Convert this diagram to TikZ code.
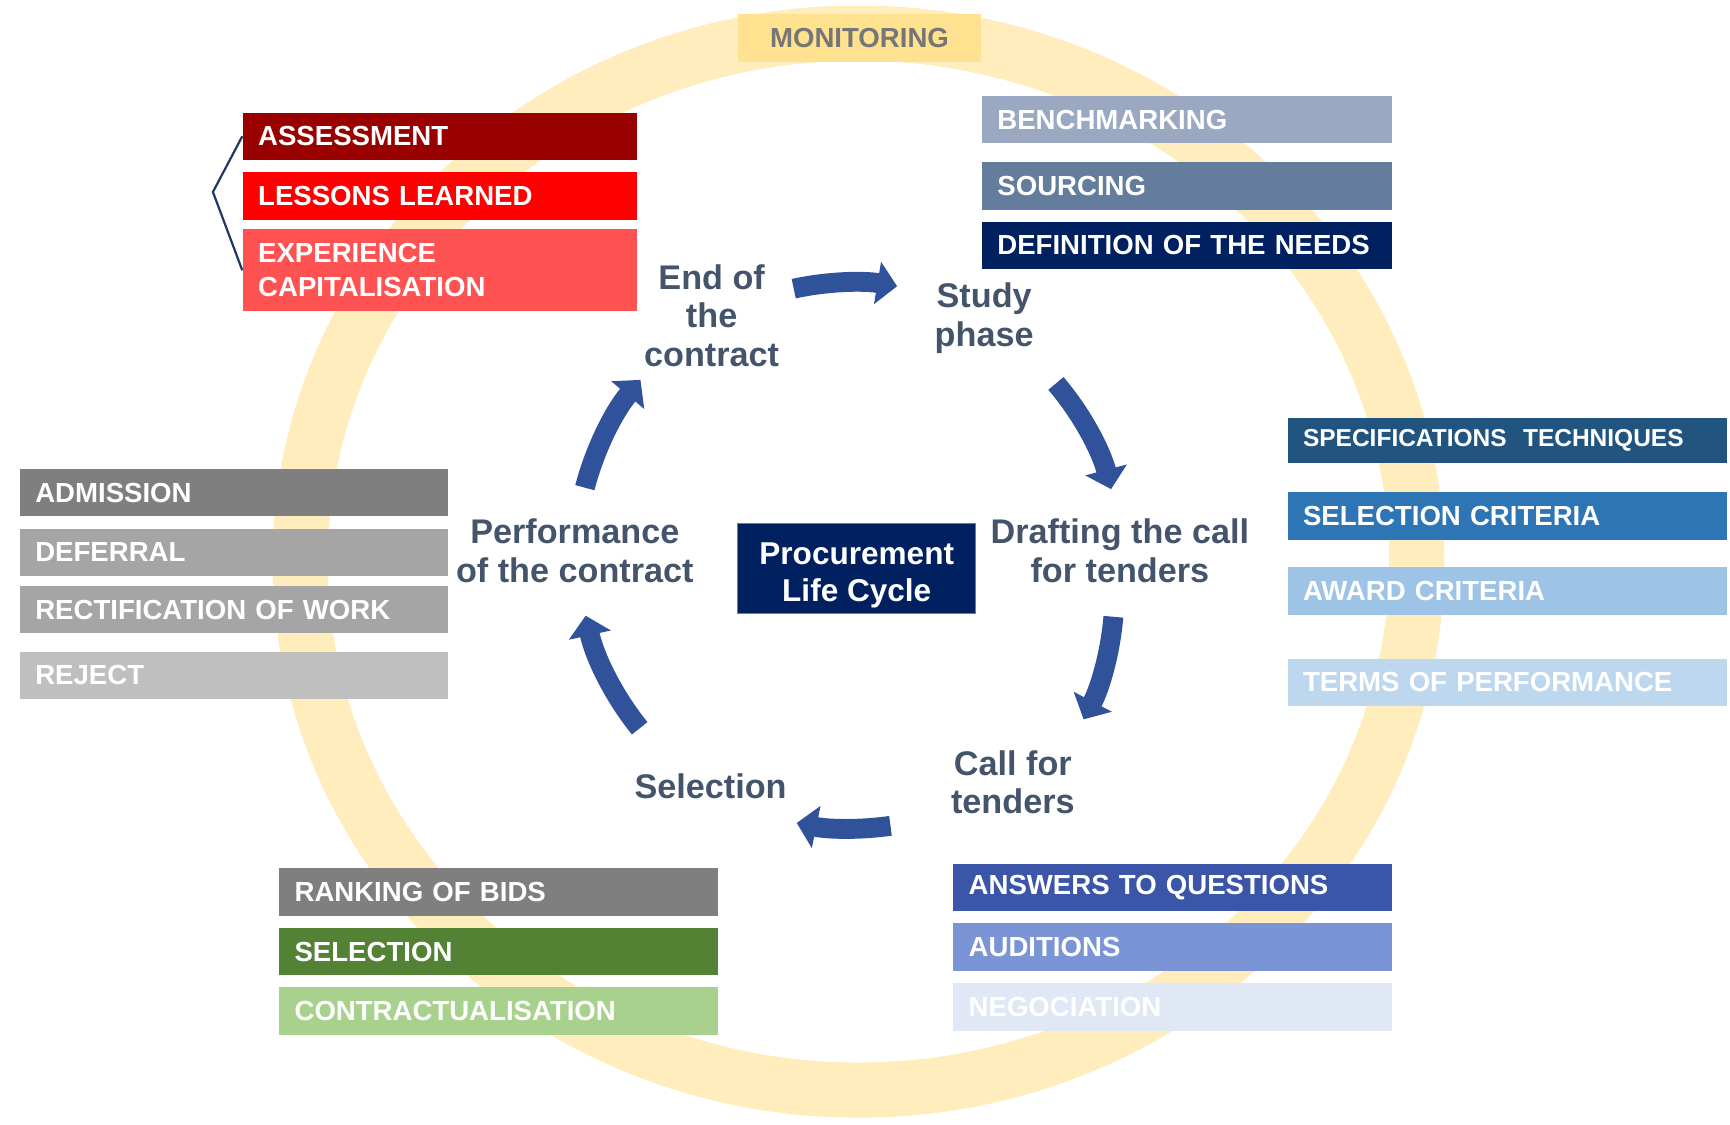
\documentclass[tikz,border=0pt]{standalone}
\usepackage{fontspec}
\setmainfont{Liberation Sans}
\usetikzlibrary{arrows.meta}
\definecolor{ringyel}{RGB}{255,237,189}
\definecolor{monyel}{RGB}{255,226,143}
\definecolor{montxt}{RGB}{118,118,118}
\definecolor{navy}{RGB}{0,32,96}
\definecolor{phasetxt}{RGB}{68,84,106}
\definecolor{flowblue}{RGB}{47,82,155}
\definecolor{bracenavy}{RGB}{31,56,100}
\definecolor{redA}{RGB}{153,0,0}
\definecolor{redB}{RGB}{255,0,0}
\definecolor{redC}{RGB}{255,82,82}
\definecolor{slateA}{RGB}{154,169,193}
\definecolor{slateB}{RGB}{101,125,156}
\definecolor{blueA}{RGB}{33,85,128}
\definecolor{blueB}{RGB}{46,117,182}
\definecolor{blueC}{RGB}{157,195,230}
\definecolor{blueD}{RGB}{189,215,238}
\definecolor{greyA}{RGB}{127,127,127}
\definecolor{greyB}{RGB}{165,165,165}
\definecolor{greyC}{RGB}{191,191,191}
\definecolor{greenA}{RGB}{84,130,53}
\definecolor{greenB}{RGB}{169,209,142}
\definecolor{indigoA}{RGB}{59,86,168}
\definecolor{indigoB}{RGB}{123,148,214}
\definecolor{indigoC}{RGB}{225,232,245}
\newcommand\boxfont{\fontsize{12.5}{15.5}\selectfont\bfseries}
\newcommand\specfont{\fontsize{11.1}{13}\selectfont\bfseries}
\newcommand\phasefont{\fontsize{15.5}{17.5}\selectfont\bfseries}
\newcommand\hubfont{\fontsize{14.3}{16.8}\selectfont\bfseries}
\tikzstyle{tag} = [rectangle, minimum height=21.5pt, inner xsep=7pt, inner ysep=0pt, align=left, text=white, font=\boxfont]
\tikzstyle{redw} = [tag, text width=164.5pt]
\tikzstyle{slatew} = [tag, text width=172pt]
\tikzstyle{greyw} = [tag, text width=180pt]
\tikzstyle{widew} = [tag, text width=185pt]
\tikzstyle{phase} = [align=center, text=phasetxt, font=\phasefont, inner sep=0pt]
\tikzstyle{hubbox} = [rectangle, minimum width=108pt, minimum height=41pt, inner ysep=0pt, align=center, fill=navy, draw=slateB, line width=0.4pt, text=white, font=\hubfont]
\tikzstyle{monitor} = [rectangle, minimum width=110.5pt, minimum height=21.5pt, fill=monyel, text=montxt, font=\boxfont]
\tikzstyle{flow} = [line width=9pt, draw=flowblue, -{Triangle[width=19pt,length=9pt]}]
\tikzstyle{brace} = [line width=1pt, draw=bracenavy]

\begin{document}
\begin{tikzpicture}[x=0.5pt, y=0.5pt, node distance=27pt]
\useasboundingbox (0,0) rectangle (1568,-1019);
\coordinate (ringc) at (778,-509);
\draw [ringyel, line width=25pt] (ringc) ellipse [x radius=506, y radius=479];
\node (monit) [monitor] at (779,-34.5) {MONITORING};

\node (hub) [hubbox] at (776.5,-515) {\rule{0pt}{16.3pt}Procurement\\Life Cycle};
\coordinate (axis) at (772,-505);
\coordinate (axisb) at (765,-538.5);

\node (endc) [phase] at (645,-286) {End of\\the\\contract};
\node (study) [phase] at (892,-288.5) {Study\\phase};
\node (draft) [phase] at (1015,-499) {Drafting the call\\for tenders};
\node (callt) [phase] at (918,-709) {Call for\\tenders};
\node (selec) [phase] at (644,-713) {Selection};
\node (perf) [phase] at (521,-499) {Performance\\of the contract};

\draw [flow] ([shift={(102.2:249)}]axis) arc[start angle=102.2, end angle=80.5, radius=249];
\draw [flow] ([shift={(40.4:243)}]axis) arc[start angle=40.4, end angle=14.7, radius=243];
\draw [flow] ([shift={(-4.8:245)}]axisb) arc[start angle=-4.8, end angle=-27.6, radius=245];
\draw [flow] ([shift={(-81.8:246)}]axis) arc[start angle=-81.8, end angle=-101.7, radius=246];
\draw [flow] ([shift={(-141.1:247)}]axis) arc[start angle=-141.1, end angle=-167.6, radius=247];
\draw [flow] ([shift={(165.4:250)}]axis) arc[start angle=165.4, end angle=140, radius=250];

\node (assess) [redw, fill=redA] at (398.5,-123.5) {ASSESSMENT};
\node (lessons) [redw, fill=redB, below of=assess] {LESSONS LEARNED};
\node (expcap) [redw, fill=redC, minimum height=37pt, below of=lessons, yshift=-6.75pt] {EXPERIENCE\\CAPITALISATION};
\coordinate (kink) at (193,-174);
\draw [brace] (assess.west) -- (kink) -- (expcap.west);

\node (bench) [slatew, fill=slateA] at (1076,-108.5) {BENCHMARKING};
\node (sourcing) [slatew, fill=slateB, below of=bench, yshift=-3pt] {SOURCING};
\node (needs) [slatew, fill=navy, below of=sourcing] {DEFINITION OF THE NEEDS};

\node (spec) [widew, fill=blueA, minimum height=20.5pt, font=\specfont] at (1366,-399.5) {SPECIFICATIONS\ \ TECHNIQUES};
\node (selcrit) [widew, fill=blueB, below of=spec, yshift=-7pt] {SELECTION CRITERIA};
\node (award) [widew, fill=blueC, below of=selcrit, yshift=-7pt] {AWARD CRITERIA};
\node (terms) [widew, fill=blueD, below of=award, yshift=-14.5pt] {TERMS OF PERFORMANCE};

\node (admis) [greyw, fill=greyA] at (212,-446.5) {ADMISSION};
\node (defer) [greyw, fill=greyB, below of=admis] {DEFERRAL};
\node (rectif) [greyw, fill=greyB, below of=defer, yshift=1pt] {RECTIFICATION OF WORK};
\node (reject) [greyw, fill=greyC, below of=rectif, yshift=-2.75pt] {REJECT};

\node (ranking) [widew, fill=greyA] at (452,-808.5) {RANKING OF BIDS};
\node (selbox) [widew, fill=greenA, below of=ranking] {SELECTION};
\node (contr) [widew, fill=greenB, below of=selbox] {CONTRACTUALISATION};

\node (answers) [widew, fill=indigoA] at (1063,-804.5) {ANSWERS TO QUESTIONS};
\node (audit) [widew, fill=indigoB, below of=answers] {AUDITIONS};
\node (negoc) [widew, fill=indigoC, below of=audit] {NEGOCIATION};
\end{tikzpicture}
\end{document}
